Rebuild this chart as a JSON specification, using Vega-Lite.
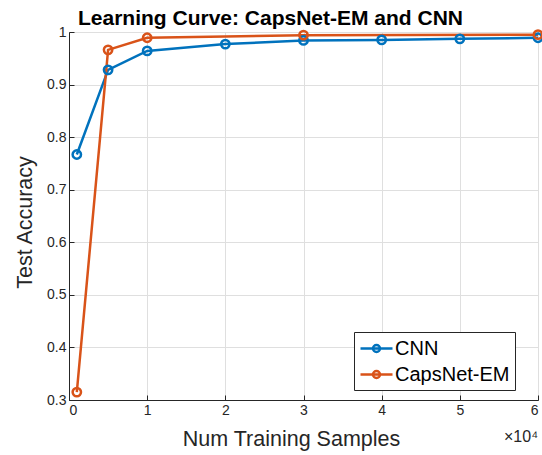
{
  "$schema": "https://vega.github.io/schema/vega-lite/v6.json",
  "width": 469,
  "height": 368,
  "autosize": "none",
  "padding": {"left": 69, "top": 32, "right": 4, "bottom": 55},
  "background": "white",
  "config": {
    "font": "Liberation Sans",
    "view": {"stroke": "#262626", "strokeWidth": 1},
    "axis": {
      "gridColor": "#dfdfdf",
      "gridWidth": 1,
      "domainColor": "#262626",
      "tickColor": "#262626",
      "tickSize": -5,
      "labelColor": "#262626",
      "labelFontSize": 14,
      "titleColor": "#262626",
      "titleFontSize": 21.5,
      "titleFontWeight": "normal"
    }
  },
  "title": {
    "text": "Learning Curve: CapsNet-EM and CNN",
    "fontSize": 21,
    "fontWeight": "bold",
    "color": "#000000",
    "anchor": "middle",
    "dx": -33,
    "offset": -4
  },
  "data": {
    "values": [
      {"samples": 1000, "accuracy": 0.767, "model": "CNN"},
      {"samples": 5000, "accuracy": 0.928, "model": "CNN"},
      {"samples": 10000, "accuracy": 0.964, "model": "CNN"},
      {"samples": 20000, "accuracy": 0.977, "model": "CNN"},
      {"samples": 30000, "accuracy": 0.984, "model": "CNN"},
      {"samples": 40000, "accuracy": 0.985, "model": "CNN"},
      {"samples": 50000, "accuracy": 0.987, "model": "CNN"},
      {"samples": 60000, "accuracy": 0.989, "model": "CNN"},
      {"samples": 1000, "accuracy": 0.315, "model": "CapsNet-EM"},
      {"samples": 5000, "accuracy": 0.966, "model": "CapsNet-EM"},
      {"samples": 10000, "accuracy": 0.989, "model": "CapsNet-EM"},
      {"samples": 30000, "accuracy": 0.994, "model": "CapsNet-EM"},
      {"samples": 60000, "accuracy": 0.995, "model": "CapsNet-EM"}
    ]
  },
  "layer": [
    {
      "mark": {"type": "line", "strokeWidth": 2.5, "clip": false},
      "encoding": {
        "x": {
          "field": "samples",
          "type": "quantitative",
          "scale": {"domain": [0, 60000], "nice": false, "zero": false},
          "axis": {
            "title": "Num Training Samples",
            "values": [0, 10000, 20000, 30000, 40000, 50000, 60000],
            "labelExpr": "format(datum.value / 10000, 'd')",
            "labelPadding": 8,
            "titleX": 222,
            "titleY": 45,
            "titleAlign": "center",
            "titleBaseline": "alphabetic"
          }
        },
        "y": {
          "field": "accuracy",
          "type": "quantitative",
          "scale": {"domain": [0.3, 1], "nice": false, "zero": false},
          "axis": {
            "title": "Test Accuracy",
            "values": [0.3, 0.4, 0.5, 0.6, 0.7, 0.8, 0.9, 1],
            "labelExpr": "datum.value == 1 ? '1' : format(datum.value, '.1f')",
            "labelPadding": 8,
            "titleX": -44,
            "titleY": 190,
            "titleAngle": -90,
            "titleAlign": "center",
            "titleBaseline": "middle"
          }
        },
        "color": {
          "field": "model",
          "type": "nominal",
          "sort": ["CNN", "CapsNet-EM"],
          "scale": {"domain": ["CNN", "CapsNet-EM"], "range": ["#0072BD", "#D95319"]},
          "legend": {
            "title": null,
            "orient": "none",
            "legendX": 285,
            "legendY": 300,
            "fillColor": "white",
            "strokeColor": "#262626",
            "padding": 5,
            "labelFontSize": 20,
            "labelColor": "#000000",
            "labelFont": "Liberation Sans",
            "labelExpr": "datum.label + '\u00a0\u00a0'",
            "rowPadding": 4,
            "symbolType": "M-1.6,0H1.6M0.35,0A0.35,0.35 0 1 1 -0.35,0A0.35,0.35 0 1 1 0.35,0Z",
            "symbolSize": 400,
            "symbolOffset": 6,
            "symbolStrokeWidth": 2.5,
            "symbolFillColor": "transparent",
            "labelOffset": 7
          }
        }
      }
    },
    {
      "mark": {"type": "point", "filled": false, "size": 70, "strokeWidth": 2.5, "opacity": 1, "clip": false},
      "encoding": {
        "x": {"field": "samples", "type": "quantitative"},
        "y": {"field": "accuracy", "type": "quantitative"},
        "color": {"field": "model", "type": "nominal", "legend": null}
      }
    },
    {
      "data": {"values": [{"samples": 60000, "accuracy": 0.3, "label": "×10⁴"}]},
      "mark": {"type": "text", "align": "right", "baseline": "middle", "dy": 37, "dx": 0, "fontSize": 16, "color": "#262626"},
      "encoding": {
        "x": {"field": "samples", "type": "quantitative"},
        "y": {"field": "accuracy", "type": "quantitative"},
        "text": {"field": "label"}
      }
    }
  ]
}
